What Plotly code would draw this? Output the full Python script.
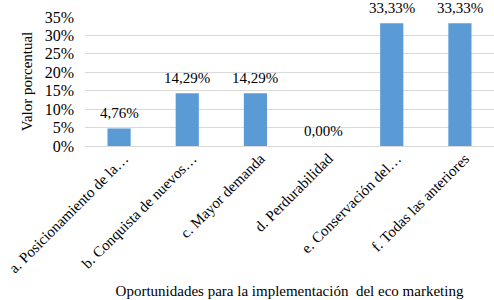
import plotly.graph_objects as go

categories = ["a. Posicionamiento de la…", "b. Conquista de nuevos…", "c. Mayor demanda",
              "d. Perdurabilidad", "e. Conservación del…", "f. Todas las anteriores"]
values = [0.0476, 0.1429, 0.1429, 0.0, 0.3333, 0.3333]
tick_vals = [0, 0.05, 0.10, 0.15, 0.20, 0.25, 0.30, 0.35]

font_family = "Liberation Serif"

fig = go.Figure(go.Bar(
    x=categories, y=values, width=0.34,
    marker=dict(color="#5b9bd5", line=dict(width=0)),
    hoverinfo="skip",
))

for c, v in zip(categories, values):
    fig.add_annotation(
        x=c, y=v, text=f"{v*100:.2f}%".replace(".", ","),
        showarrow=False, yanchor="middle", yshift=15,
        font=dict(family=font_family, size=15, color="#000000"),
    )

fig.update_layout(
    width=494, height=300,
    margin=dict(l=85, r=0, t=17, b=154),
    paper_bgcolor="white", plot_bgcolor="white",
    separators=",.",
    showlegend=False,
    font=dict(family=font_family, size=15, color="#000000"),
)
fig.update_yaxes(
    range=[0, 0.35], tickvals=tick_vals, tickformat=".0%",
    automargin=False,
    showgrid=True, gridcolor="#d9d9d9", gridwidth=1,
    zeroline=True, zerolinecolor="#d9d9d9", zerolinewidth=1,
    showline=False, ticks="", ticklabelstandoff=10,
    tickfont=dict(family=font_family, size=16),
    title=dict(text="Valor porcentual", font=dict(family=font_family, size=15), standoff=8),
)
fig.update_xaxes(
    tickangle=-45, showline=False, ticks="", automargin=False,
    ticklabelshift=5,
    tickfont=dict(family=font_family, size=15),
    title=dict(text="Oportunidades para la implementación  del eco marketing",
               font=dict(family=font_family, size=15), standoff=10),
)

fig.write_html("out.html", config={"displayModeBar": False},
               post_script="document.body.style.margin='0';")
